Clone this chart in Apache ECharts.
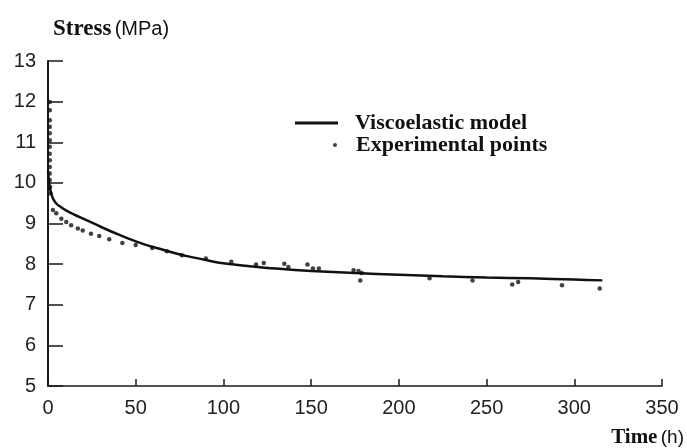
<!DOCTYPE html>
<html>
<head>
<meta charset="utf-8">
<script src="https://cdn.jsdelivr.net/npm/echarts@6/dist/echarts.min.js"></script>
<style>html,body{margin:0;padding:0;background:#fff;}#c{width:687px;height:448px;}</style>
</head>
<body>
<div id="c"></div>
<script>
// Viscoelastic model curve: [time (h), stress (MPa)]
const modelCurve = [
  [0, 10.3], [0.5, 10.05], [1, 9.9], [2, 9.72], [3, 9.6], [5, 9.48], [7.5, 9.4],
  [10, 9.33], [15, 9.22], [20, 9.12], [30, 8.92], [40, 8.73], [50, 8.56],
  [60, 8.42], [70, 8.3], [80, 8.19], [90, 8.1], [100, 8.02], [115, 7.95],
  [130, 7.89], [150, 7.83], [175, 7.78], [200, 7.74], [225, 7.7], [250, 7.67],
  [275, 7.65], [300, 7.62], [316, 7.6]
];
// Experimental points: [time (h), stress (MPa)]
const experimentalPoints = [
  [1, 11.99], [1, 11.79], [1, 11.54], [1, 11.38], [1, 11.22], [1, 11.05],
  [1, 10.89], [1, 10.72], [1, 10.56], [1, 10.39], [1, 10.23], [1, 10.07],
  [1.2, 9.9], [1.5, 9.74], [2.8, 9.33], [4.7, 9.25], [7.6, 9.12], [10.4, 9.04],
  [13.2, 8.96], [17, 8.88], [19.8, 8.83], [24.5, 8.75], [29.2, 8.69],
  [34.9, 8.61], [42.4, 8.52], [50, 8.47], [59.4, 8.4], [67.8, 8.32],
  [76.3, 8.22], [90, 8.14], [104.5, 8.06], [118.6, 7.99], [123, 8.03],
  [134.7, 8.01], [137, 7.93], [147.9, 7.99], [151, 7.89], [154.4, 7.89],
  [174.2, 7.85], [177, 7.83], [178, 7.6], [178.8, 7.78], [217.5, 7.65],
  [242, 7.6], [264.6, 7.5], [268, 7.56], [293, 7.48], [314.5, 7.4]
];
const seriesNames = ['Viscoelastic model', 'Experimental points'];
const xTicks = { min: 0, max: 350, interval: 50 };
const yTicks = { min: 5, max: 13, interval: 1 };

const chart = echarts.init(document.getElementById('c'));
const axisColor = '#1a1a1a';
const legendText = { fontFamily: 'Liberation Serif', fontWeight: 'bold', fontSize: 22, color: '#111', padding: [0, 0, 0, 12] };
chart.setOption({
  animation: false,
  backgroundColor: '#fff',
  grid: { left: 48, right: 22, top: 61, bottom: 62 },
  legend: [
    {
      data: [{ name: seriesNames[0], icon: 'rect' }],
      left: 290, top: 107,
      itemWidth: 43, itemHeight: 3,
      textStyle: legendText
    },
    {
      data: [{ name: seriesNames[1], icon: 'circle' }],
      left: 328, top: 129,
      itemWidth: 4, itemHeight: 4,
      textStyle: Object.assign({}, legendText, { padding: [0, 0, 0, 14] })
    }
  ],
  xAxis: {
    type: 'value',
    min: xTicks.min, max: xTicks.max, interval: xTicks.interval,
    name: '{t|Time} {h|(h)}',
    nameLocation: 'end',
    nameGap: 22,
    nameTextStyle: {
      rich: {
        t: { fontFamily: 'Liberation Serif', fontWeight: 'bold', fontSize: 21, color: '#111' },
        h: { fontFamily: 'Liberation Sans', fontSize: 19, color: '#111' }
      },
      align: 'right', verticalAlign: 'top', padding: [41, 0, 0, 0]
    },
    splitLine: { show: false },
    axisLine: { lineStyle: { color: axisColor, width: 1.5 } },
    axisTick: { inside: true, length: 7, lineStyle: { color: axisColor, width: 1.5 } },
    axisLabel: { fontFamily: 'Liberation Sans', fontSize: 20, color: '#222', margin: 12 }
  },
  yAxis: {
    type: 'value',
    min: yTicks.min, max: yTicks.max, interval: yTicks.interval,
    name: '{s|Stress} {m|(MPa)}',
    nameLocation: 'end',
    nameGap: 20,
    nameTextStyle: {
      align: 'left',
      padding: [0, 0, 0, 5],
      rich: {
        s: { fontFamily: 'Liberation Serif', fontWeight: 'bold', fontSize: 23, color: '#111' },
        m: { fontFamily: 'Liberation Sans', fontSize: 20, color: '#111' }
      }
    },
    splitLine: { show: false },
    axisLine: { show: true, lineStyle: { color: axisColor, width: 2 } },
    axisTick: { show: true, inside: true, length: 15, lineStyle: { color: axisColor, width: 1.5 } },
    axisLabel: { fontFamily: 'Liberation Sans', fontSize: 20, color: '#222', margin: 12 }
  },
  series: [
    {
      name: seriesNames[0],
      type: 'line',
      data: modelCurve,
      showSymbol: false,
      smooth: 0.3,
      lineStyle: { color: '#111', width: 2.5 },
      itemStyle: { color: '#111' },
      z: 2
    },
    {
      name: seriesNames[1],
      type: 'scatter',
      data: experimentalPoints,
      symbol: 'circle',
      symbolSize: 4.5,
      itemStyle: { color: '#111' },
      z: 3
    }
  ]
});
</script>
</body>
</html>
